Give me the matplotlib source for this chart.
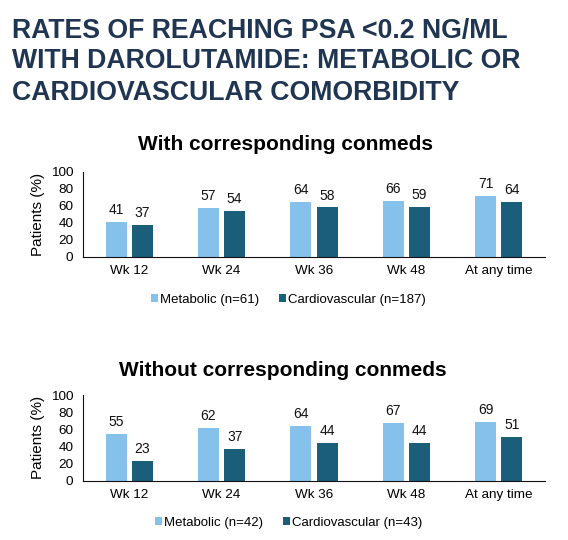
import numpy as np
import matplotlib.pyplot as plt

plt.rcParams['font.family'] = ['Liberation Sans', 'DejaVu Sans']

# Data
categories = ['Wk 12', 'Wk 24', 'Wk 36', 'Wk 48', 'At any time']
with_metabolic = [41, 57, 64, 66, 71]
with_cardio = [37, 54, 58, 59, 64]
without_metabolic = [55, 62, 64, 67, 69]
without_cardio = [23, 37, 44, 44, 51]

title_lines = ['RATES OF REACHING PSA <0.2 NG/ML',
               'WITH DAROLUTAMIDE: METABOLIC OR',
               'CARDIOVASCULAR COMORBIDITY']
light = '#85C1EA'
dark = '#1A5E7A'

W, H = 568, 540


def draw_panel(ax, metab, cardio, labels, leg_y):
    x = np.arange(len(categories))
    w = 0.228
    gap = 0.055
    b1 = ax.bar(x - (w + gap) / 2, metab, w, color=light, label=labels[0])
    b2 = ax.bar(x + (w + gap) / 2, cardio, w, color=dark, label=labels[1])
    for bars in (b1, b2):
        for b in bars:
            ax.annotate(f'{int(b.get_height())}', (b.get_x() + b.get_width() / 2, b.get_height()),
                        xytext=(0, 3.5), textcoords='offset points',
                        ha='center', va='bottom', fontsize=10, color='#111111')
    ax.set_xlim(-0.5, len(categories) - 0.5)
    ax.set_ylim(0, 100)
    ax.set_yticks(range(0, 101, 20))
    ax.set_xticks(x)
    ax.set_xticklabels(categories)
    ax.tick_params(axis='y', length=0, labelsize=9.7, pad=7)
    ax.tick_params(axis='x', length=0, labelsize=9.7, pad=6)
    ax.spines['top'].set_visible(False)
    ax.spines['right'].set_visible(False)
    ax.spines['left'].set_color('#111111')
    ax.spines['bottom'].set_color('#111111')
    ax.set_ylabel('Patients (%)', fontsize=11, labelpad=4)
    ax.legend(loc='center', bbox_to_anchor=(288.5 / W, 1 - leg_y / H),
              bbox_transform=fig.transFigure, ncol=2, frameon=False,
              fontsize=9.5, handlelength=0.55, handleheight=0.55, handletextpad=0.15,
              columnspacing=1.5)


fig = plt.figure(figsize=(W / 100, H / 100), dpi=100)

for line, base in zip(title_lines, [37.7, 68.5, 100]):
    fig.text(12 / W, 1 - base / H, line, ha='left', va='baseline', fontsize=19.2,
             fontweight='bold', color='#1F3552')

ax1 = fig.add_axes([83 / W, 1 - 256.7 / H, 462 / W, 85 / H])
draw_panel(ax1, with_metabolic, with_cardio, ['Metabolic (n=61)', 'Cardiovascular (n=187)'], 300)
fig.text(285.5 / W, 1 - 150 / H, 'With corresponding conmeds', ha='center', va='baseline',
         fontsize=15, fontweight='bold', color='black')

ax2 = fig.add_axes([83 / W, 1 - 480.7 / H, 462 / W, 85.7 / H])
draw_panel(ax2, without_metabolic, without_cardio, ['Metabolic (n=42)', 'Cardiovascular (n=43)'], 523)
fig.text(282.5 / W, 1 - 376 / H, 'Without corresponding conmeds', ha='center', va='baseline',
         fontsize=15, fontweight='bold', color='black')

fig.savefig('out.png', dpi=100)
